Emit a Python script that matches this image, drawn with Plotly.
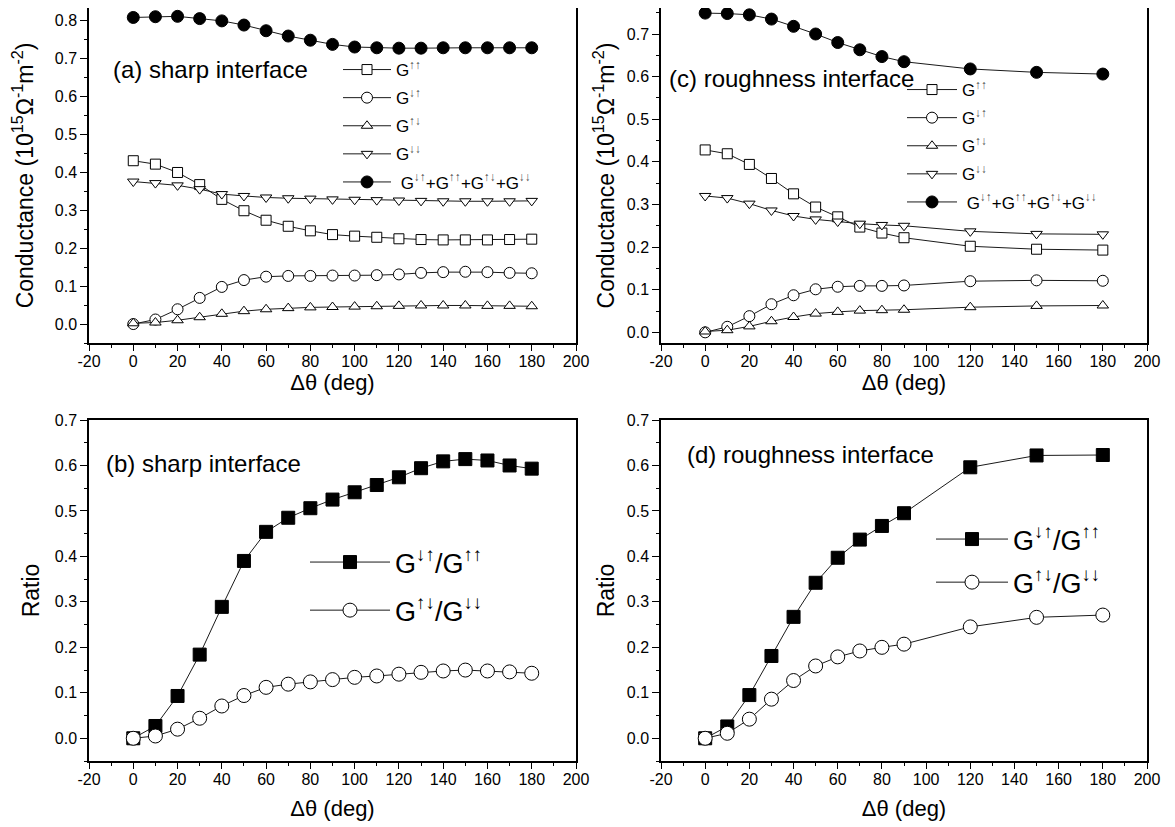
import plotly.graph_objects as go

# ---------------- data ----------------
theta_a = [0, 10, 20, 30, 40, 50, 60, 70, 80, 90, 100, 110, 120, 130, 140, 150, 160, 170, 180]
a_uu = [0.431, 0.422, 0.400, 0.368, 0.329, 0.299, 0.274, 0.258, 0.246, 0.236, 0.232, 0.229, 0.225, 0.223, 0.222, 0.222, 0.222, 0.223, 0.224]
a_du = [0.000, 0.012, 0.039, 0.069, 0.098, 0.116, 0.125, 0.127, 0.127, 0.128, 0.128, 0.129, 0.131, 0.135, 0.137, 0.138, 0.137, 0.135, 0.134]
a_ud = [0.002, 0.004, 0.010, 0.018, 0.027, 0.034, 0.039, 0.042, 0.044, 0.045, 0.046, 0.047, 0.048, 0.049, 0.049, 0.049, 0.048, 0.048, 0.047]
a_dd = [0.376, 0.372, 0.366, 0.356, 0.343, 0.338, 0.334, 0.332, 0.331, 0.329, 0.328, 0.327, 0.326, 0.325, 0.324, 0.324, 0.324, 0.324, 0.325]
a_tot = [0.809, 0.811, 0.812, 0.806, 0.800, 0.789, 0.774, 0.760, 0.749, 0.738, 0.731, 0.729, 0.728, 0.728, 0.729, 0.729, 0.729, 0.729, 0.729]

theta_c = [0, 10, 20, 30, 40, 50, 60, 70, 80, 90, 120, 150, 180]
c_uu = [0.428, 0.419, 0.394, 0.361, 0.325, 0.294, 0.271, 0.247, 0.233, 0.222, 0.202, 0.195, 0.193]
c_du = [0.000, 0.013, 0.038, 0.066, 0.087, 0.101, 0.107, 0.109, 0.109, 0.110, 0.120, 0.122, 0.121]
c_ud = [0.002, 0.005, 0.014, 0.026, 0.036, 0.044, 0.048, 0.051, 0.052, 0.053, 0.059, 0.062, 0.063]
c_dd = [0.320, 0.315, 0.302, 0.286, 0.273, 0.265, 0.260, 0.255, 0.252, 0.250, 0.237, 0.231, 0.230]
c_tot = [0.749, 0.748, 0.745, 0.735, 0.718, 0.700, 0.680, 0.663, 0.647, 0.635, 0.618, 0.610, 0.606]

b_r1 = [0.000, 0.027, 0.093, 0.184, 0.289, 0.390, 0.454, 0.485, 0.506, 0.525, 0.541, 0.557, 0.574, 0.594, 0.609, 0.614, 0.611, 0.600, 0.593]
b_r2 = [0.000, 0.005, 0.020, 0.044, 0.071, 0.094, 0.112, 0.119, 0.124, 0.129, 0.134, 0.137, 0.141, 0.145, 0.148, 0.150, 0.148, 0.146, 0.143]
d_r1 = [0.000, 0.026, 0.095, 0.181, 0.267, 0.342, 0.397, 0.437, 0.467, 0.495, 0.596, 0.622, 0.623]
d_r2 = [0.000, 0.011, 0.042, 0.086, 0.127, 0.159, 0.179, 0.192, 0.200, 0.207, 0.245, 0.266, 0.271]

x_tickvals = [-20, 0, 20, 40, 60, 80, 100, 120, 140, 160, 180, 200]
x_ticktext = ["-20", "0", "20", "40", "60", "80", "100", "120", "140", "160", "180", "200"]


def sup(arrows):
    return "<sup><span style='color:#555555'>" + arrows + "</span></sup>"


names_cond = ["G" + sup("↑↑"), "G" + sup("↓↑"), "G" + sup("↑↓"), "G" + sup("↓↓"),
              "\u00a0G" + sup("↓↑") + "+G" + sup("↑↑") + "+G" + sup("↑↓") + "+G" + sup("↓↓")]
names_ratio = ["G<sup>↓↑</sup>/G<sup>↑↑</sup>", "G<sup>↑↓</sup>/G<sup>↓↓</sup>"]
panel_labels = ["(a) sharp interface", "(b) sharp interface",
                "(c) roughness interface", "(d) roughness interface"]

# ---------------- layout geometry ----------------
# the page body has an 8px margin, so the figure is drawn 8px smaller and
# reference pixel positions are shifted by that offset
OFF = 8
W, H = 1175 - OFF, 827 - OFF
FONT = "Liberation Sans, Arial, DejaVu Sans, sans-serif"


def px_x(p):
    return min(1.0, max(0.0, (p - OFF) / W))


def px_y(p):
    return min(1.0, max(0.0, 1 - (p - OFF) / H))


dom_x = {1: [px_x(89), px_x(576)], 2: [px_x(89), px_x(576)],
         3: [px_x(661), px_x(1147)], 4: [px_x(661), px_x(1147)]}
# top panels start at the page's first drawable row; ranges keep data positions
dom_y = {1: [px_y(343), px_y(8)], 3: [px_y(343), px_y(8)],
         2: [px_y(761), px_y(420)], 4: [px_y(761), px_y(420)]}
y_ranges = {1: [-0.05, 0.834], 3: [-0.025, 0.761], 2: [-0.05, 0.7], 4: [-0.05, 0.7]}

fig = go.Figure()

LINE = dict(color="#1a1a1a", width=1)


def add_series(i, x, y, name, symbol, size, filled, legend):
    fig.add_trace(go.Scatter(
        x=x, y=y, mode="lines+markers", name=name,
        xaxis=f"x{i}", yaxis=f"y{i}", legend=legend, legendgroup=f"{legend}_{name}",
        line=LINE,
        marker=dict(symbol=symbol, size=size,
                    color="black" if filled else "white",
                    line=dict(color="black", width=1)),
    ))


# panel (a)
add_series(1, theta_a, a_uu, names_cond[0], "square", 10, False, "legend")
add_series(1, theta_a, a_du, names_cond[1], "circle", 11, False, "legend")
add_series(1, theta_a, a_ud, names_cond[2], "triangle-up", 10, False, "legend")
add_series(1, theta_a, a_dd, names_cond[3], "triangle-down", 10, False, "legend")
add_series(1, theta_a, a_tot, names_cond[4], "circle", 12, True, "legend")
# panel (c)
add_series(3, theta_c, c_uu, names_cond[0], "square", 10, False, "legend3")
add_series(3, theta_c, c_du, names_cond[1], "circle", 11, False, "legend3")
add_series(3, theta_c, c_ud, names_cond[2], "triangle-up", 10, False, "legend3")
add_series(3, theta_c, c_dd, names_cond[3], "triangle-down", 10, False, "legend3")
add_series(3, theta_c, c_tot, names_cond[4], "circle", 12, True, "legend3")
# panel (b)
add_series(2, theta_a, b_r1, names_ratio[0], "square", 13, True, "legend2")
add_series(2, theta_a, b_r2, names_ratio[1], "circle", 14, False, "legend2")
# panel (d)
add_series(4, theta_c, d_r1, names_ratio[0], "square", 13, True, "legend4")
add_series(4, theta_c, d_r2, names_ratio[1], "circle", 14, False, "legend4")

layout = dict(
    width=W, height=H, margin=dict(l=0, r=0, t=0, b=0, pad=0, autoexpand=False),
    paper_bgcolor="white", plot_bgcolor="white",
    font=dict(family=FONT, color="black", size=16),
)

ytitles = {1: "Conductance (10<sup>15</sup>Ω<sup>-1</sup>m<sup>-2</sup>)",
           3: "Conductance (10<sup>15</sup>Ω<sup>-1</sup>m<sup>-2</sup>)",
           2: "Ratio", 4: "Ratio"}
ystand = {1: 27, 3: 6, 2: 9, 4: 6}
xstand = {1: 0, 3: 0, 2: 14, 4: 14}

for i in range(1, 5):
    k = "" if i == 1 else str(i)
    layout[f"xaxis{k}"] = dict(
        domain=dom_x[i], anchor=f"y{i}", range=[-20, 200], automargin=False,
        tickvals=x_tickvals, ticktext=x_ticktext, ticklabelstandoff=-3,
        ticks="outside", ticklen=6, tickwidth=1.3, tickcolor="black",
        minor=dict(ticks="outside", dtick=10, tick0=0, ticklen=3, tickwidth=1.3, tickcolor="black"),
        showline=True, linecolor="black", linewidth=1.5, mirror=True,
        showgrid=False, zeroline=False,
        tickfont=dict(size=16, family=FONT),
        title=dict(text="Δθ (deg)", font=dict(size=22, family=FONT), standoff=xstand[i]),
    )
    layout[f"yaxis{k}"] = dict(
        domain=dom_y[i], anchor=f"x{i}", range=y_ranges[i], automargin=False,
        dtick=0.1, tick0=0, tickformat=".1f",
        ticks="outside", ticklen=7, tickwidth=1.3, tickcolor="black",
        minor=dict(ticks="outside", dtick=0.05, tick0=0, ticklen=3.5, tickwidth=1.3, tickcolor="black"),
        showline=True, linecolor="black", linewidth=1.5, mirror=True,
        showgrid=False, zeroline=False,
        tickfont=dict(size=16, family=FONT),
        title=dict(text=ytitles[i], font=dict(size=23, family=FONT), standoff=ystand[i]),
    )
    # inward ticks on top and right edges
    layout[f"xaxis{i + 4}"] = dict(
        overlaying=f"x{i}", side="top", anchor=f"y{i}", range=[-20, 200], automargin=False,
        tickvals=x_tickvals, showticklabels=False,
        ticks="inside", ticklen=6, tickwidth=1.3, tickcolor="black",
        minor=dict(ticks="inside", dtick=10, tick0=0, ticklen=3, tickwidth=1.3, tickcolor="black"),
        showline=False, showgrid=False, zeroline=False,
    )
    layout[f"yaxis{i + 4}"] = dict(
        overlaying=f"y{i}", side="right", anchor=f"x{i}", range=y_ranges[i], automargin=False,
        dtick=0.1, tick0=0, showticklabels=False,
        ticks="inside", ticklen=6, tickwidth=1.3, tickcolor="black",
        minor=dict(ticks="inside", dtick=0.05, tick0=0, ticklen=3, tickwidth=1.3, tickcolor="black"),
        showline=False, showgrid=False, zeroline=False,
    )

# legends
leg_common = dict(bgcolor="rgba(0,0,0,0)", borderwidth=0, xanchor="left", yanchor="top")
layout["legend"] = dict(leg_common, x=px_x(338), y=px_y(52), itemwidth=48, tracegroupgap=3,
                        font=dict(size=17, family=FONT))
layout["legend3"] = dict(leg_common, x=px_x(902), y=px_y(72), itemwidth=50, tracegroupgap=3,
                         font=dict(size=17, family=FONT))
layout["legend2"] = dict(leg_common, x=px_x(305), y=px_y(538), itemwidth=80, tracegroupgap=10,
                         font=dict(size=27, family=FONT))
layout["legend4"] = dict(leg_common, x=px_x(931), y=px_y(515), itemwidth=72, tracegroupgap=5,
                         font=dict(size=27, family=FONT))

fig.update_layout(**layout)

# panel annotations
ann_pos = {1: (111, 70), 2: (104, 463), 3: (667, 78), 4: (685, 455)}
for i in range(1, 5):
    xp, yp = ann_pos[i]
    fig.add_annotation(text=panel_labels[i - 1],
                       xref="paper", yref="paper",
                       x=px_x(xp), y=px_y(yp), xanchor="left", yanchor="middle",
                       showarrow=False, font=dict(size=24, family=FONT, color="black"))

fig.write_html("out.html")
